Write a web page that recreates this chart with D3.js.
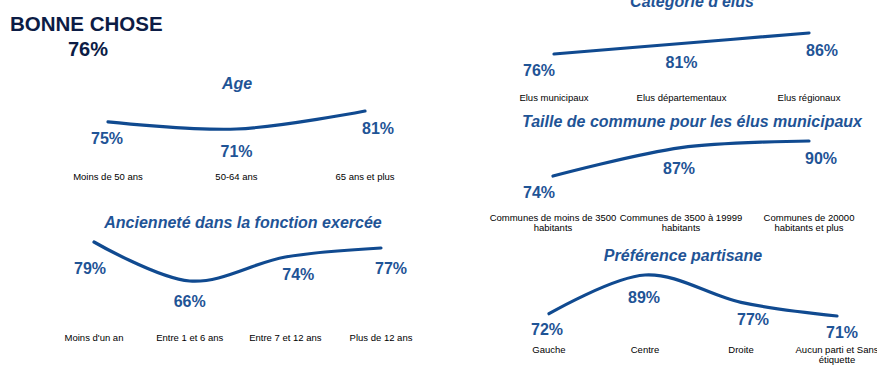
<!DOCTYPE html>
<html><head><meta charset="utf-8">
<script src="https://cdn.jsdelivr.net/npm/d3@7"></script>
<style>
html,body{margin:0;padding:0;background:#fff;}
svg{display:block;font-family:"Liberation Sans",Arial,sans-serif;}
</style></head>
<body>
<svg id="c" width="877" height="365"></svg>
<script>
// ---- Data ----
const mainTitle = "BONNE CHOSE";
const mainValue = 76;

const ageTitle = "Age";
const ageCats = ["Moins de 50 ans", "50-64 ans", "65 ans et plus"];
const ageValues = [75, 71, 81];

const ancTitle = "Ancienneté dans la fonction exercée";
const ancCats = ["Moins d'un an", "Entre 1 et 6 ans", "Entre 7 et 12 ans", "Plus de 12 ans"];
const ancValues = [79, 66, 74, 77];

const catTitle = "Catégorie d'élus";
const catCats = ["Elus municipaux", "Elus départementaux", "Elus régionaux"];
const catValues = [76, 81, 86];

const tailleTitle = "Taille de commune pour les élus municipaux";
const tailleCats = ["Communes de moins de 3500\nhabitants", "Communes de 3500 à 19999\nhabitants", "Communes de 20000\nhabitants et plus"];
const tailleValues = [74, 87, 90];

const prefTitle = "Préférence partisane";
const prefCats = ["Gauche", "Centre", "Droite", "Aucun parti et Sans\nétiquette"];
const prefValues = [72, 89, 77, 71];

// ---- Layout (positions / styles) ----
const LINE = "#104a90";
const BLUE = "#1f5496";
const layouts = [
  {title: ageTitle, cats: ageCats, values: ageValues, x: [108, 365], y: [129, 111], titleX: 237, titleY: 89, catY: 180,
   nudge: [[-1,16],[0,22],[13,17]]},
  {title: ancTitle, cats: ancCats, values: ancValues, x: [94, 381], y: [281, 242], titleX: 243, titleY: 228, catY: 341,
   nudge: [[-4,26],[0,20],[13,17],[10,20]]},
  {title: catTitle, cats: catCats, values: catValues, x: [554, 809], y: [54, 33], titleX: 692, titleY: 7, catY: 101,
   nudge: [[-15,16],[0,19],[13,17]]},
  {title: tailleTitle, cats: tailleCats, values: tailleValues, x: [553, 809], y: [176, 141], titleX: 692, titleY: 127, catY: 221,
   nudge: [[-14,16],[-2,21],[12,17]]},
  {title: prefTitle, cats: prefCats, values: prefValues, x: [549, 837], y: [316, 275], titleX: 683, titleY: 261, catY: 353,
   nudge: [[-2,16],[-1,22],[12,17],[5,16]]}
];

const svg = d3.select("#c");

svg.append("text").attr("x", 10).attr("y", 31)
  .attr("font-size", 20.5).attr("font-weight", "bold").attr("fill", "#0c1c45")
  .text(mainTitle);
svg.append("text").attr("x", 88).attr("y", 56).attr("text-anchor", "middle")
  .attr("font-size", 20).attr("font-weight", "bold").attr("fill", "#0c1c45")
  .text(mainValue + "%");

layouts.forEach(p => {
  const g = svg.append("g");
  const x = d3.scalePoint().domain(p.cats).range(p.x);
  const y = d3.scaleLinear().domain(d3.extent(p.values)).range(p.y);
  const pts = p.cats.map((c, i) => ({c, v: p.values[i], i}));

  g.append("text").attr("x", p.titleX).attr("y", p.titleY).attr("text-anchor", "middle")
    .attr("font-size", 16).attr("font-weight", "bold").attr("font-style", "italic").attr("fill", BLUE)
    .text(p.title);

  const line = d3.line().x(d => x(d.c)).y(d => y(d.v)).curve(d3.curveCardinal.tension(0));
  g.append("path").datum(pts).attr("d", line)
    .attr("fill", "none").attr("stroke", LINE).attr("stroke-width", 3.2).attr("stroke-linecap", "round");

  g.selectAll("text.val").data(pts).join("text").attr("class", "val")
    .attr("x", d => x(d.c) + p.nudge[d.i][0])
    .attr("y", d => y(d.v) + p.nudge[d.i][1])
    .attr("dy", "0.36em").attr("text-anchor", "middle")
    .attr("font-size", 16).attr("font-weight", "bold").attr("fill", BLUE)
    .text(d => d.v + "%");

  const cl = g.selectAll("text.cat").data(pts).join("text").attr("class", "cat")
    .attr("text-anchor", "middle").attr("font-size", 9.5).attr("fill", "#000")
    .attr("y", p.catY);
  cl.selectAll("tspan").data(d => d.c.split("\n").map(s => ({s, c: d.c}))).join("tspan")
    .attr("x", d => x(d.c)).attr("dy", (d, j) => j === 0 ? 0 : 10).text(d => d.s);
});
</script>
</body></html>
